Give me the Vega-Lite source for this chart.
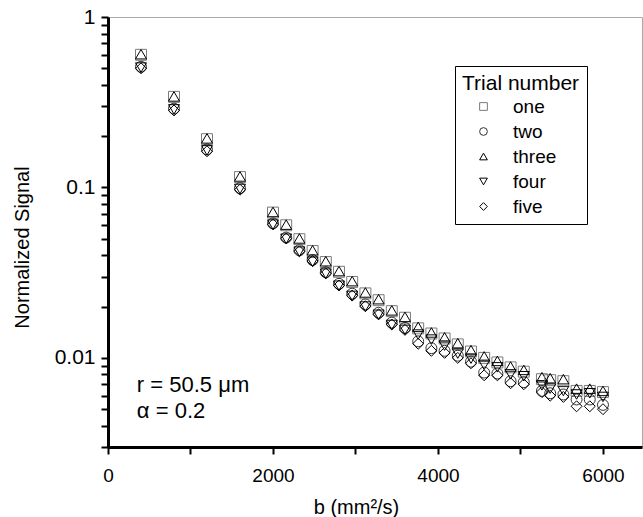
{
  "$schema": "https://vega.github.io/schema/vega-lite/v6.json",
  "width": 534,
  "height": 430,
  "autosize": {"type": "none"},
  "padding": {"left": 108, "top": 17, "right": 1, "bottom": 70},
  "background": "white",
  "config": {
    "font": "Liberation Sans",
    "view": {"stroke": "#aaaaaa", "strokeWidth": 1},
    "axis": {
      "domainColor": "black", "domainWidth": 3, "tickColor": "black", "tickWidth": 2, "tickSize": 7,
      "labelColor": "black", "titleColor": "black", "labelFontSize": 19, "titleFontSize": 20,
      "titleFontWeight": "normal", "grid": false, "labelFont": "Liberation Sans", "titleFont": "Liberation Sans"
    },
    "legend": {
      "labelFont": "Liberation Sans", "titleFont": "Liberation Sans", "labelColor": "black", "titleColor": "black"
    }
  },
  "datasets": {
    "pts": [
      {"b":400,"trial":"one","signal":0.600},{"b":400,"trial":"two","signal":0.510},{"b":400,"trial":"three","signal":0.605},{"b":400,"trial":"four","signal":0.505},{"b":400,"trial":"five","signal":0.500},
      {"b":800,"trial":"one","signal":0.340},{"b":800,"trial":"two","signal":0.290},{"b":800,"trial":"three","signal":0.342},{"b":800,"trial":"four","signal":0.287},{"b":800,"trial":"five","signal":0.283},
      {"b":1200,"trial":"one","signal":0.192},{"b":1200,"trial":"two","signal":0.167},{"b":1200,"trial":"three","signal":0.194},{"b":1200,"trial":"four","signal":0.165},{"b":1200,"trial":"five","signal":0.163},
      {"b":1600,"trial":"one","signal":0.115},{"b":1600,"trial":"two","signal":0.099},{"b":1600,"trial":"three","signal":0.116},{"b":1600,"trial":"four","signal":0.098},{"b":1600,"trial":"five","signal":0.097},
      {"b":2000,"trial":"one","signal":0.0712},{"b":2000,"trial":"two","signal":0.0615},{"b":2000,"trial":"three","signal":0.0718},{"b":2000,"trial":"four","signal":0.0605},{"b":2000,"trial":"five","signal":0.0608},
      {"b":2160,"trial":"one","signal":0.0600},{"b":2160,"trial":"two","signal":0.0508},{"b":2160,"trial":"three","signal":0.0605},{"b":2160,"trial":"four","signal":0.0500},{"b":2160,"trial":"five","signal":0.0502},
      {"b":2320,"trial":"one","signal":0.0497},{"b":2320,"trial":"two","signal":0.0428},{"b":2320,"trial":"three","signal":0.0502},{"b":2320,"trial":"four","signal":0.0420},{"b":2320,"trial":"five","signal":0.0422},
      {"b":2480,"trial":"one","signal":0.0424},{"b":2480,"trial":"two","signal":0.0375},{"b":2480,"trial":"three","signal":0.0428},{"b":2480,"trial":"four","signal":0.0366},{"b":2480,"trial":"five","signal":0.0370},
      {"b":2640,"trial":"one","signal":0.0365},{"b":2640,"trial":"two","signal":0.0318},{"b":2640,"trial":"three","signal":0.0369},{"b":2640,"trial":"four","signal":0.0312},{"b":2640,"trial":"five","signal":0.0313},
      {"b":2800,"trial":"one","signal":0.0320},{"b":2800,"trial":"two","signal":0.0272},{"b":2800,"trial":"three","signal":0.0323},{"b":2800,"trial":"four","signal":0.0265},{"b":2800,"trial":"five","signal":0.0266},
      {"b":2960,"trial":"one","signal":0.0279},{"b":2960,"trial":"two","signal":0.0238},{"b":2960,"trial":"three","signal":0.0282},{"b":2960,"trial":"four","signal":0.0231},{"b":2960,"trial":"five","signal":0.0232},
      {"b":3120,"trial":"one","signal":0.0239},{"b":3120,"trial":"two","signal":0.0206},{"b":3120,"trial":"three","signal":0.0242},{"b":3120,"trial":"four","signal":0.0200},{"b":3120,"trial":"five","signal":0.0201},
      {"b":3280,"trial":"one","signal":0.0218},{"b":3280,"trial":"two","signal":0.0184},{"b":3280,"trial":"three","signal":0.0221},{"b":3280,"trial":"four","signal":0.0179},{"b":3280,"trial":"five","signal":0.0180},
      {"b":3440,"trial":"one","signal":0.0188},{"b":3440,"trial":"two","signal":0.0161},{"b":3440,"trial":"three","signal":0.0190},{"b":3440,"trial":"four","signal":0.0156},{"b":3440,"trial":"five","signal":0.0157},
      {"b":3600,"trial":"one","signal":0.0172},{"b":3600,"trial":"two","signal":0.0150},{"b":3600,"trial":"three","signal":0.0174},{"b":3600,"trial":"four","signal":0.0146},{"b":3600,"trial":"five","signal":0.0146},
      {"b":3760,"trial":"one","signal":0.0149},{"b":3760,"trial":"two","signal":0.0125},{"b":3760,"trial":"three","signal":0.0152},{"b":3760,"trial":"four","signal":0.0137},{"b":3760,"trial":"five","signal":0.0121},
      {"b":3920,"trial":"one","signal":0.0139},{"b":3920,"trial":"two","signal":0.0114},{"b":3920,"trial":"three","signal":0.0141},{"b":3920,"trial":"four","signal":0.0128},{"b":3920,"trial":"five","signal":0.0110},
      {"b":4080,"trial":"one","signal":0.0130},{"b":4080,"trial":"two","signal":0.0110},{"b":4080,"trial":"three","signal":0.0132},{"b":4080,"trial":"four","signal":0.0118},{"b":4080,"trial":"five","signal":0.0107},
      {"b":4240,"trial":"one","signal":0.0120},{"b":4240,"trial":"two","signal":0.0103},{"b":4240,"trial":"three","signal":0.0122},{"b":4240,"trial":"four","signal":0.0106},{"b":4240,"trial":"five","signal":0.0100},
      {"b":4400,"trial":"one","signal":0.0109},{"b":4400,"trial":"two","signal":0.0095},{"b":4400,"trial":"three","signal":0.0111},{"b":4400,"trial":"four","signal":0.0099},{"b":4400,"trial":"five","signal":0.0093},
      {"b":4560,"trial":"one","signal":0.0100},{"b":4560,"trial":"two","signal":0.0082},{"b":4560,"trial":"three","signal":0.0102},{"b":4560,"trial":"four","signal":0.0091},{"b":4560,"trial":"five","signal":0.0079},
      {"b":4720,"trial":"one","signal":0.0094},{"b":4720,"trial":"two","signal":0.0081},{"b":4720,"trial":"three","signal":0.0096},{"b":4720,"trial":"four","signal":0.0088},{"b":4720,"trial":"five","signal":0.0079},
      {"b":4880,"trial":"one","signal":0.0088},{"b":4880,"trial":"two","signal":0.0073},{"b":4880,"trial":"three","signal":0.0089},{"b":4880,"trial":"four","signal":0.0080},{"b":4880,"trial":"five","signal":0.0071},
      {"b":5040,"trial":"one","signal":0.0083},{"b":5040,"trial":"two","signal":0.0072},{"b":5040,"trial":"three","signal":0.0085},{"b":5040,"trial":"four","signal":0.0078},{"b":5040,"trial":"five","signal":0.0070},
      {"b":5260,"trial":"one","signal":0.0075},{"b":5260,"trial":"two","signal":0.0064},{"b":5260,"trial":"three","signal":0.0077},{"b":5260,"trial":"four","signal":0.0069},{"b":5260,"trial":"five","signal":0.0063},
      {"b":5360,"trial":"one","signal":0.0074},{"b":5360,"trial":"two","signal":0.0062},{"b":5360,"trial":"three","signal":0.0076},{"b":5360,"trial":"four","signal":0.0066},{"b":5360,"trial":"five","signal":0.0060},
      {"b":5520,"trial":"one","signal":0.0073},{"b":5520,"trial":"two","signal":0.0061},{"b":5520,"trial":"three","signal":0.0075},{"b":5520,"trial":"four","signal":0.0064},{"b":5520,"trial":"five","signal":0.0059},
      {"b":5680,"trial":"one","signal":0.0064},{"b":5680,"trial":"two","signal":0.0057},{"b":5680,"trial":"three","signal":0.0066},{"b":5680,"trial":"four","signal":0.0061},{"b":5680,"trial":"five","signal":0.0052},
      {"b":5840,"trial":"one","signal":0.0064},{"b":5840,"trial":"two","signal":0.0057},{"b":5840,"trial":"three","signal":0.0066},{"b":5840,"trial":"four","signal":0.0062},{"b":5840,"trial":"five","signal":0.0052},
      {"b":6000,"trial":"one","signal":0.0063},{"b":6000,"trial":"two","signal":0.0053},{"b":6000,"trial":"three","signal":0.0064},{"b":6000,"trial":"four","signal":0.0059},{"b":6000,"trial":"five","signal":0.0050}
    ],
    "notes": [
      {"b": 350, "signal": 0.0069, "label": "r = 50.5 μm"},
      {"b": 350, "signal": 0.0049, "label": "α = 0.2"}
    ]
  },
  "layer": [
    {
      "data": {"name": "pts"},
      "mark": {"type": "point", "filled": false, "strokeWidth": 1, "opacity": 1},
      "encoding": {
        "x": {
          "field": "b", "type": "quantitative",
          "scale": {"domain": [0, 6473], "nice": false, "zero": false},
          "axis": {
            "title": "b (mm²/s)", "values": [0,1000,2000,3000,4000,5000,6000],
            "labelExpr": "datum.value % 2000 == 0 ? format(datum.value, 'd') : ''",
            "labelPadding": 12, "labelFlush": false,
            "titleX": 248, "titleY": 60, "titleBaseline": "middle", "titleAlign": "center"
          }
        },
        "y": {
          "field": "signal", "type": "quantitative",
          "scale": {"type": "log", "domain": [0.003, 1], "nice": false},
          "axis": {
            "title": "Normalized Signal",
            "values": [0.003,0.004,0.005,0.006,0.007,0.008,0.009,0.01,0.02,0.03,0.04,0.05,0.06,0.07,0.08,0.09,0.1,0.2,0.3,0.4,0.5,0.6,0.7,0.8,0.9,1],
            "labelExpr": "datum.value == 1 ? '1' : (datum.value == 0.1 ? '0.1' : (datum.value == 0.01 ? '0.01' : ''))",
            "labelPadding": 6, "labelFontSize": 21, "labelFlush": false,
            "titleX": -86, "titleY": 230, "titleAngle": -90, "titleAlign": "center", "titleBaseline": "middle"
          }
        },
        "shape": {
          "field": "trial", "type": "nominal",
          "scale": {"domain": ["one","two","three","four","five"], "range": ["square","circle","triangle-up","triangle-down","diamond"]},
          "legend": {
            "title": "Trial number", "orient": "none", "legendX": 347, "legendY": 49,
            "strokeColor": "black", "padding": 7, "titleFontSize": 21, "titleFontWeight": "normal",
            "labelFontSize": 19, "symbolSize": 60, "symbolStrokeWidth": 1, "rowPadding": 5,
            "symbolOffset": 12, "labelOffset": 20, "titlePadding": 3
          }
        },
        "color": {
          "field": "trial", "type": "nominal",
          "scale": {"domain": ["one","two","three","four","five"], "range": ["#7a7a7a","#333333","#000000","#000000","#000000"]},
          "legend": {
            "title": "Trial number", "orient": "none", "legendX": 347, "legendY": 49,
            "strokeColor": "black", "padding": 7, "titleFontSize": 21, "titleFontWeight": "normal",
            "labelFontSize": 19, "symbolSize": 60, "symbolStrokeWidth": 1, "rowPadding": 5,
            "symbolOffset": 12, "labelOffset": 20, "titlePadding": 3
          }
        },
        "size": {"value": 120}
      }
    },
    {
      "data": {"name": "notes"},
      "mark": {"type": "text", "align": "left", "baseline": "middle", "fontSize": 22, "color": "black", "font": "Liberation Sans"},
      "encoding": {
        "x": {"field": "b", "type": "quantitative"},
        "y": {"field": "signal", "type": "quantitative"},
        "text": {"field": "label"}
      }
    },
    {
      "mark": {"type": "rule", "color": "black", "strokeWidth": 3},
      "encoding": {"y": {"datum": 1}}
    }
  ]
}
